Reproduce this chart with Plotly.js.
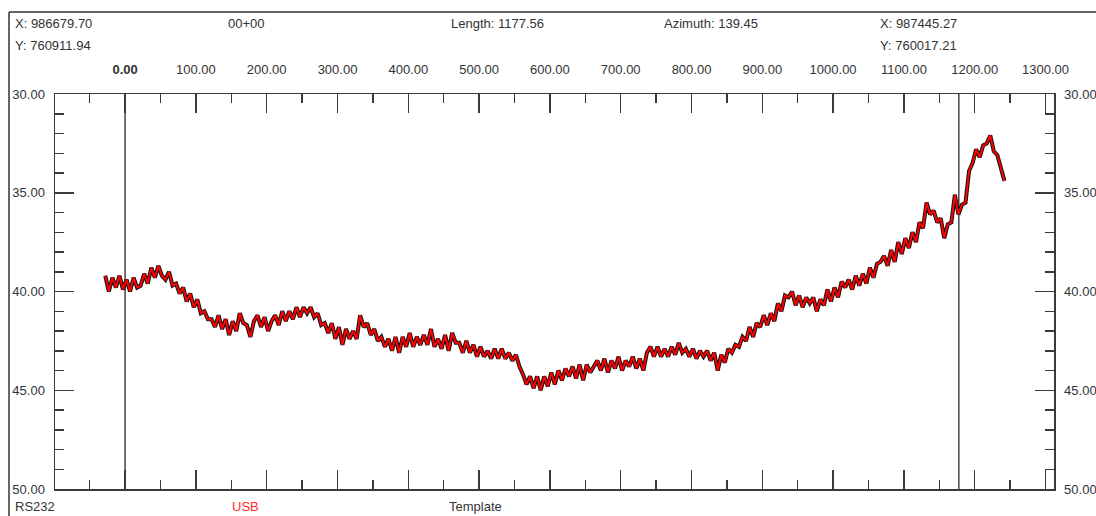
<!DOCTYPE html>
<html>
<head>
<meta charset="utf-8">
<script src="https://cdn.plot.ly/plotly-3.0.1.min.js"></script>
<style>html,body{margin:0;padding:0;background:#fff;}#chart{width:1096px;height:516px;}</style>
</head>
<body>
<div id="chart"></div>
<script>
// Profile stations (distance along line) start and sampling step
var stationStart = -28;
var stationStep = 5;
// Elevation readings
var elevations = [
  39.2, 40.0, 39.3, 39.8, 39.2, 39.9, 39.4, 40.0, 39.3, 39.8,
  39.7, 39.1, 39.6, 38.8, 39.3, 38.7, 39.2, 39.4, 39.0, 39.7,
  39.6, 40.1, 39.8, 40.5, 40.1, 40.8, 40.4, 41.1, 41.0, 41.4,
  41.4, 41.8, 41.2, 41.9, 41.4, 42.2, 41.5, 42.0, 41.1, 41.6,
  41.7, 42.3, 41.5, 41.2, 41.8, 41.3, 42.0, 41.5, 41.2, 41.7,
  41.0, 41.5, 41.0, 41.4, 40.8, 41.3, 40.8, 41.1, 40.8, 41.3,
  41.1, 41.7, 41.6, 42.1, 41.6, 42.4, 41.8, 42.7, 41.9, 42.4,
  42.0, 42.4, 41.2, 41.8, 41.6, 42.2, 41.9, 42.5, 42.3, 42.8,
  42.4, 43.0, 42.3, 43.1, 42.3, 42.8, 42.1, 42.8, 42.3, 42.7,
  42.2, 42.7, 41.9, 42.8, 42.4, 42.9, 42.2, 43.0, 42.1, 42.6,
  42.6, 43.1, 42.5, 43.1, 42.7, 43.3, 42.8, 43.3, 43.0, 43.4,
  42.9, 43.4, 42.9, 43.4, 43.1, 43.5, 43.2, 43.8, 44.2, 44.7,
  44.3, 44.9, 44.3, 45.0, 44.3, 44.8, 44.1, 44.7, 44.0, 44.5,
  43.9, 44.3, 43.8, 44.4, 43.7, 44.5, 43.7, 44.1, 43.8, 43.5,
  44.0, 43.4, 44.1, 43.5, 43.9, 43.3, 44.0, 43.5, 43.8, 43.3,
  43.9, 43.4, 44.0, 43.1, 42.8, 43.3, 42.8, 43.3, 42.9, 43.3,
  42.8, 43.2, 42.6, 43.1, 42.9, 43.3, 42.9, 43.4, 43.0, 43.3,
  43.0, 43.5, 43.1, 44.0, 43.2, 43.6, 42.9, 43.1, 42.7, 42.8,
  42.3, 42.5, 41.8, 42.3, 41.6, 41.8, 41.2, 41.7, 41.1, 41.5,
  40.6, 41.0, 40.2, 40.3, 40.0, 40.7, 40.2, 40.8, 40.3, 40.6,
  40.3, 41.0, 40.4, 40.7, 39.9, 40.5, 39.8, 40.3, 39.5, 39.8,
  39.4, 39.9, 39.2, 39.7, 39.1, 39.6, 38.8, 39.3, 38.6, 38.5,
  38.2, 38.7, 37.9, 38.5, 37.5, 38.1, 37.3, 37.8, 37.0, 37.5,
  36.5, 36.8, 35.5, 36.1, 35.9, 36.5, 36.3, 37.3, 36.6, 36.5,
  35.1, 36.1, 35.6, 35.5, 33.9, 33.5, 32.8, 33.2, 32.6, 32.5,
  32.1, 32.9, 33.1, 33.7, 34.4
];
// Axis ticks and labels
var xTickVals = [0, 100, 200, 300, 400, 500, 600, 700, 800, 900, 1000, 1100, 1200, 1300];
var xTickText = ['<b>0.00</b>', '100.00', '200.00', '300.00', '400.00', '500.00', '600.00', '700.00', '800.00', '900.00', '1000.00', '1100.00', '1200.00', '1300.00'];
var yTickVals = [30, 35, 40, 45, 50];
// Marker lines: start of line and line length
var markerLines = [0, 1177.56];
// Header / footer texts
var headerLeft = ['X: 986679.70', 'Y: 760911.94'];
var headerStation = '00+00';
var headerLength = 'Length: 1177.56';
var headerAzimuth = 'Azimuth: 139.45';
var headerRight = ['X: 987445.27', 'Y: 760017.21'];
var footer = ['RS232', 'USB', 'Template'];

var stations = elevations.map(function (_, i) { return stationStart + i * stationStep; });

var W = 1096, H = 516, ML = 55, MR = 42, MT = 94, MB = 27;
var PW = W - ML - MR, PH = H - MT - MB;
function px(x) { return (x - ML) / PW; }
function py(y) { return (H - MB - y) / PH; }

var font = 'Liberation Sans, Arial, sans-serif';
var txtColor = '#333';
var axColor = '#3a3a3a';

var traces = [
  { x: stations, y: elevations, type: 'scatter', mode: 'lines', line: { color: '#111', width: 4 }, hoverinfo: 'skip', showlegend: false, yaxis: 'y' },
  { x: stations, y: elevations, type: 'scatter', mode: 'lines', line: { color: '#ff0000', width: 2 }, hoverinfo: 'skip', showlegend: false, yaxis: 'y2' }
];

var yCommon = {
  range: [50, 30], autorange: false, showline: true, linecolor: axColor, linewidth: 1.5,
  ticks: 'inside', ticklen: 19, tickwidth: 1.5, tickcolor: axColor,
  tickmode: 'array', tickvals: yTickVals, tickformat: '.2f',
  minor: { dtick: 1, tick0: 30, ticks: 'inside', ticklen: 9, tickwidth: 1.5, tickcolor: axColor, showgrid: false },
  showgrid: false, zeroline: false, fixedrange: true,
  tickfont: { family: font, size: 13, color: txtColor }, ticklabelstandoff: 6
};

var layout = {
  width: W, height: H,
  margin: { l: ML, r: MR, t: MT, b: MB, pad: 0 },
  paper_bgcolor: '#fff', plot_bgcolor: '#fff',
  showlegend: false,
  xaxis: {
    range: [-99, 1312], autorange: false, side: 'top', showline: true, mirror: 'ticks',
    linecolor: axColor, linewidth: 1.5,
    ticks: 'inside', ticklen: 19, tickwidth: 1.5, tickcolor: axColor,
    tickmode: 'array', tickvals: xTickVals, ticktext: xTickText,
    minor: { dtick: 50, tick0: 0, ticks: 'inside', ticklen: 9, tickwidth: 1.5, tickcolor: axColor, showgrid: false },
    showgrid: false, zeroline: false, fixedrange: true,
    tickfont: { family: font, size: 13, color: txtColor }, ticklabelstandoff: 13
  },
  yaxis: Object.assign({}, yCommon, { side: 'left' }),
  yaxis2: Object.assign({}, yCommon, { side: 'right', overlaying: 'y' }),
  shapes: [],
  annotations: []
};

markerLines.forEach(function (v) {
  layout.shapes.push({ type: 'line', xref: 'x', yref: 'paper', x0: v, x1: v, y0: 0, y1: 1, line: { color: '#444', width: 1.5 }, layer: 'below' });
});
// outer frame lines
layout.shapes.push({ type: 'line', xref: 'paper', yref: 'paper', x0: px(9), x1: px(1096), y0: py(12), y1: py(12), line: { color: '#333', width: 1.5 } });
layout.shapes.push({ type: 'line', xref: 'paper', yref: 'paper', x0: px(9), x1: px(9), y0: py(12), y1: py(516), line: { color: '#333', width: 1.5 } });

function ann(text, x, y, anchor, color) {
  layout.annotations.push({ text: text, xref: 'paper', yref: 'paper', x: px(x), y: py(y), xanchor: anchor || 'left', yanchor: 'middle', showarrow: false, font: { family: font, size: 13, color: color || txtColor } });
}
ann(headerLeft[0], 13, 24);
ann(headerLeft[1], 13, 45);
ann(headerStation, 246, 24, 'center');
ann(headerLength, 449, 24);
ann(headerAzimuth, 662, 24);
ann(headerRight[0], 878, 24);
ann(headerRight[1], 878, 45);
ann(footer[0], 13, 506);
ann(footer[1], 230, 506, 'left', '#ff2a2a');
ann(footer[2], 447, 506);

Plotly.newPlot('chart', traces, layout, { displayModeBar: false, staticPlot: true });
</script>
</body>
</html>
